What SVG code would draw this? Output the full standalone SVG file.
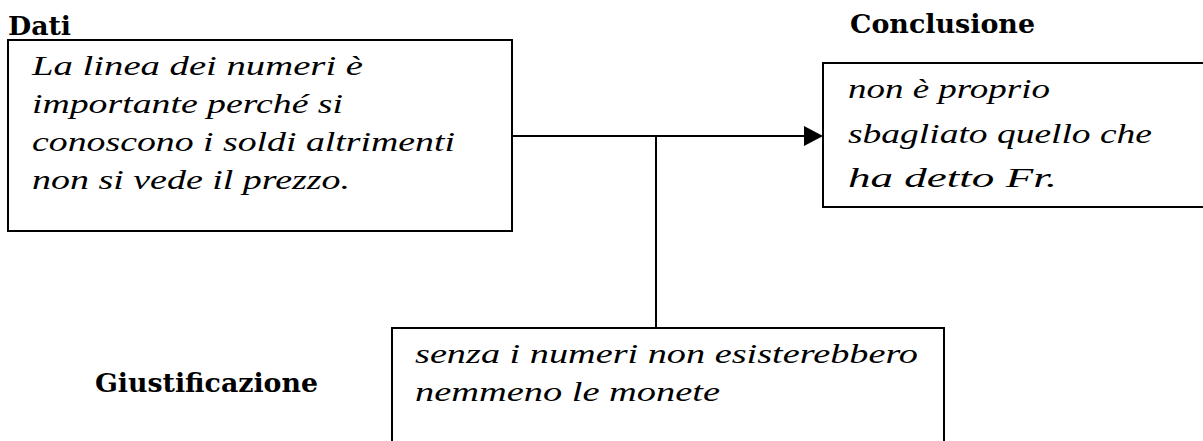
<svg xmlns="http://www.w3.org/2000/svg" width="1203" height="441" viewBox="0 0 1203 441">
<style>
.box{fill:#fff;stroke:#000;stroke-width:2}
.h{font-family:"DejaVu Serif","Liberation Serif",serif;font-weight:bold;font-size:26px;fill:#000}
.t{font-family:"Liberation Serif","DejaVu Serif",serif;font-style:italic;font-size:28px;fill:#000}
.ln{stroke:#000;stroke-width:2;fill:none}
</style>
<rect width="1203" height="441" fill="#fff"/>
<g id="connectors">
<line class="ln" x1="512" y1="136" x2="805" y2="136"/>
<path d="M804,126 L823,136 L804,146 Z" fill="#000"/>
<line class="ln" x1="656" y1="136" x2="656" y2="328"/>
</g>
<g id="dati">
<text class="h" x="8" y="35" textLength="63" lengthAdjust="spacingAndGlyphs">Dati</text>
<rect class="box" x="8" y="40" width="504" height="191"/>
<text class="t" x="32" y="75" textLength="331" lengthAdjust="spacingAndGlyphs">La linea dei numeri è</text>
<text class="t" x="32" y="113" textLength="311" lengthAdjust="spacingAndGlyphs">importante perché si</text>
<text class="t" x="32" y="151" textLength="423" lengthAdjust="spacingAndGlyphs">conoscono i soldi altrimenti</text>
<text class="t" x="32" y="189" textLength="318" lengthAdjust="spacingAndGlyphs">non si vede il prezzo.</text>
</g>
<g id="conclusione">
<text class="h" x="850" y="33" textLength="185" lengthAdjust="spacingAndGlyphs">Conclusione</text>
<rect class="box" x="823" y="63" width="400" height="144"/>
<text class="t" x="848" y="98" textLength="202" lengthAdjust="spacingAndGlyphs">non è proprio</text>
<text class="t" x="848" y="143" textLength="304" lengthAdjust="spacingAndGlyphs">sbagliato quello che</text>
<text class="t" x="848" y="187" textLength="209" lengthAdjust="spacingAndGlyphs">ha detto Fr.</text>
</g>
<g id="giustificazione">
<text class="h" x="95" y="392" textLength="223" lengthAdjust="spacingAndGlyphs">Giustificazione</text>
<rect class="box" x="392" y="328" width="552" height="130"/>
<text class="t" x="415" y="363" textLength="503" lengthAdjust="spacingAndGlyphs">senza i numeri non esisterebbero</text>
<text class="t" x="415" y="401" textLength="305" lengthAdjust="spacingAndGlyphs">nemmeno le monete</text>
</g>
</svg>
